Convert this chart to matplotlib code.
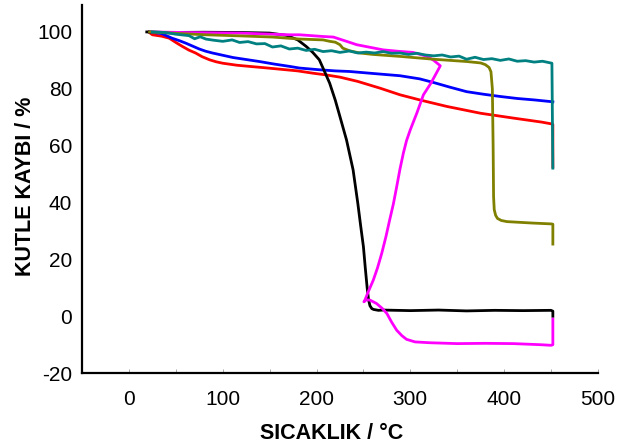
import matplotlib
matplotlib.use("Agg")
import matplotlib.pyplot as plt
from matplotlib.ticker import MultipleLocator

plt.rcParams['font.family'] = ['Liberation Sans', 'DejaVu Sans']
plt.rcParams['axes.unicode_minus'] = False

# TGA curves: temperature (°C) vs. remaining mass (%)
black_t = [19, 40, 80, 120, 150, 168, 180, 189, 196, 203, 208, 214, 220, 225, 232, 239, 244, 247, 250,
           252, 254, 255.5, 257, 259, 261, 266, 271, 300, 330, 360, 390, 420, 450, 452, 452]
black_m = [100, 99.8, 99.9, 99.8, 99.6, 98.8, 97.2, 94.9, 92.8, 90.2, 86.5, 82, 76, 70.2, 62, 51.5,
           39.8, 32, 24.5, 17, 10, 5.8, 3.7, 2.7, 2.4, 2.1, 2.2, 2.0, 2.2, 1.9, 2.1, 2.0, 2.1, 1.8, 0]

red_t = [21, 25, 35, 43, 50, 57, 64, 71, 78, 86, 93, 100, 115, 128, 145, 161, 180, 196, 210, 225,
         244, 256, 268, 289, 310, 339, 375, 410, 440, 450, 452, 452]
red_m = [100, 99, 98.5, 97.8, 96.3, 94.9, 93.6, 92.6, 91.3, 90.2, 89.5, 89, 88.3, 87.9, 87.4, 86.9,
         86.3, 85.5, 84.9, 84.1, 82.6, 81.4, 80.2, 77.9, 76.1, 73.8, 71.4, 69.7, 68.3, 67.7, 67.5, 52.5]

blue_t = [22, 35, 46, 54, 61, 68, 75, 82, 89, 100, 111, 125, 139, 155, 171, 182, 203, 220, 235, 260,
          289, 310, 325, 342, 360, 378, 396, 414, 432, 450, 452]
blue_m = [100, 99.4, 97.8, 96.9, 96, 95, 94, 93.2, 92.6, 91.8, 91, 90.3, 89.6, 88.7, 87.9, 87.3, 86.7,
          86.3, 86.1, 85.4, 84.6, 83.5, 82.2, 80.6, 79, 78.1, 77.3, 76.6, 76.1, 75.5, 75.4]

teal_t = [25, 39, 50, 64, 70, 76, 82, 90, 100, 110, 118, 127, 136, 145, 153, 162, 171, 180, 189, 198,
          207, 216, 225, 235, 244, 253, 262, 271, 280, 289, 298, 307, 316, 325, 334, 343, 352, 360,
          369, 378, 387, 396, 405, 414, 423, 432, 441, 451, 452]
teal_m = [100, 99.8, 99.2, 98.7, 97.6, 98.3, 97.5, 97.1, 96.7, 97.2, 96.3, 96.6, 95.8, 95.9, 94.7,
          95.1, 94, 94.3, 93.5, 93.9, 93.1, 93.4, 92.8, 93.3, 92.6, 92.9, 92.6, 93.1, 92.5, 92.6, 92.1,
          92.5, 91.9, 91.6, 91.9, 91.2, 91.5, 90.4, 91.1, 90.3, 90.6, 90, 90.5, 89.7, 89.9, 89.4, 89.7,
          89, 52.1]

olive_t = [22, 50, 82, 120, 153, 182, 207, 214, 220, 225, 228, 235, 246, 260, 289, 325, 360, 375, 380,
           384, 386, 387.5, 388.3, 388.8, 389.5, 391, 393, 397, 403, 430, 450, 452, 452]
olive_m = [100, 99.5, 99, 98.6, 98.2, 97.5, 97.2, 96.7, 96.4, 95.5, 94.3, 93.4, 92.6, 92.1, 91.4, 90.4,
           89.6, 89.1, 88.5, 87.5, 86, 80, 60, 42, 37.5, 35.5, 34.4, 33.7, 33.3, 32.8, 32.5, 32.4, 25.4]

magenta_t = [25, 60, 118, 171, 182, 207, 218, 232, 243, 257, 271, 287, 303, 318, 325, 332, 322, 314,
             307, 300, 296, 292.6, 289, 285.5, 282, 278, 274, 269.5, 265, 260.5, 255, 251.6, 250.5,
             253, 257, 264, 270, 275, 280, 285.5, 291, 296, 305, 321, 350, 380, 410, 440, 450, 452, 452]
magenta_m = [100, 99.8, 99.6, 99, 99, 98.4, 98.2, 96.7, 95.5, 94.6, 93.7, 93.2, 92.8, 91.4, 90, 88.1,
             82, 77.9, 71.5, 65.6, 61.8, 57.4, 51.8, 45.6, 39.6, 33.9, 28, 22.1, 17, 12.7, 8.5, 5.7,
             5.1, 5.8, 5.7, 4.5, 2.8, 1, -2, -4.9, -6.8, -8.1, -9, -9.3, -9.6, -9.5, -9.6, -10,
             -10.2, -10, -1]

fig = plt.figure(figsize=(6.17, 4.48), dpi=100)
ax = fig.add_axes([0.133, 0.167, 0.836, 0.822])

ax.plot(red_t, red_m, color='#ff0000', lw=2)
ax.plot(blue_t, blue_m, color='#0000ff', lw=2)
ax.plot(black_t, black_m, color='#000000', lw=2)
ax.plot(magenta_t, magenta_m, color='#ff00ff', lw=2)
ax.plot(olive_t, olive_m, color='#808000', lw=2)
ax.plot(teal_t, teal_m, color='#008080', lw=2)

ax.set_xlim(-50, 500)
ax.set_ylim(-20, 109.5)
ax.xaxis.set_major_locator(MultipleLocator(100))
ax.xaxis.set_minor_locator(MultipleLocator(50))
ax.yaxis.set_major_locator(MultipleLocator(20))

for side in ('top', 'right'):
    ax.spines[side].set_visible(False)
for side in ('left', 'bottom'):
    ax.spines[side].set_linewidth(1.6)

ax.tick_params(axis='x', which='both', direction='in', length=3, width=0.6,
               color='#999999', pad=12, labelsize=15)
ax.tick_params(axis='y', which='both', length=0, pad=7, labelsize=15)

ax.set_xlabel('SICAKLIK / °C', fontsize=15.5, fontweight='bold')
ax.set_ylabel('KUTLE KAYBI / %', fontsize=15.5, fontweight='bold')
ax.xaxis.set_label_coords(0.483, -0.163)
ax.yaxis.set_label_coords(-0.11, 0.508)
ax.xaxis.label.set_va('center')
ax.yaxis.label.set_va('center')

fig.savefig('out.png', dpi=100)
